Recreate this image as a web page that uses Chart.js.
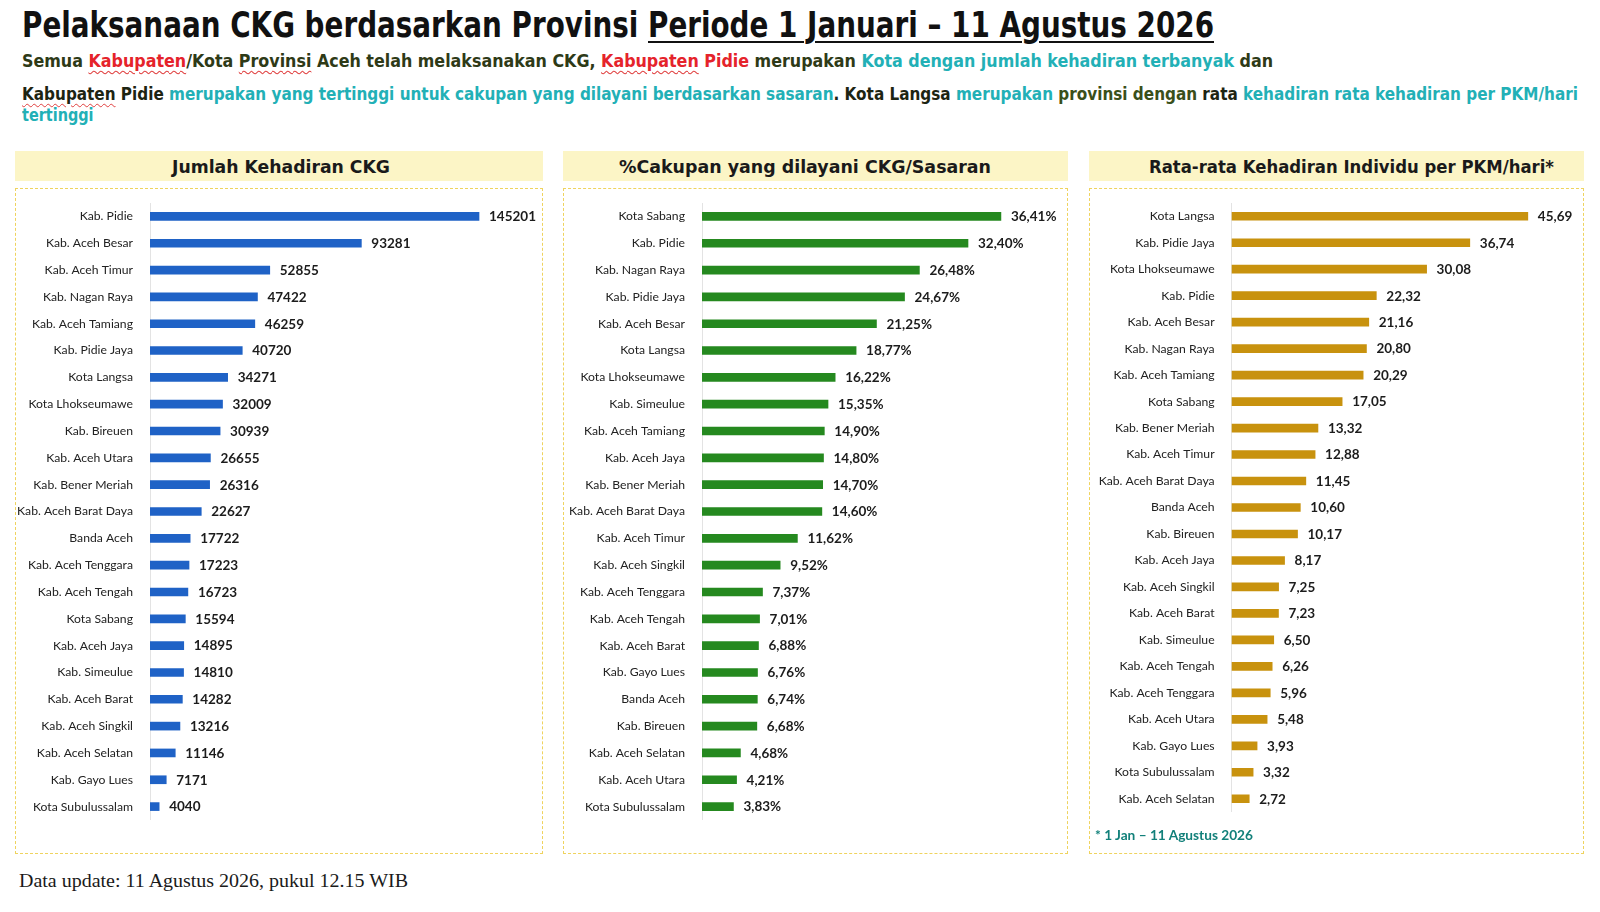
<!DOCTYPE html>
<html><head><meta charset="utf-8">
<script src="https://cdn.jsdelivr.net/npm/chart.js@4.4.1/dist/chart.umd.min.js"></script>
<style>
html,body{margin:0;padding:0;background:#fff;}
body{width:1600px;height:912px;position:relative;overflow:hidden;}
.abs{position:absolute;white-space:nowrap;transform-origin:0 0;}
.band{position:absolute;background:#fcf5c6;top:151px;height:30px;}
.box{position:absolute;top:188px;height:666px;border:1px dashed #efd35e;box-sizing:border-box;}
canvas{position:absolute;}
.r{color:#e5232b}.t{color:#22b0b6}.d{color:#2e3a17}.k{color:#1d2412}.g{color:#3a4f1a}
.sq{text-decoration:underline wavy #e04040;text-decoration-thickness:1px;text-underline-offset:3px}
.ul{text-decoration:underline;text-decoration-thickness:2px;text-underline-offset:4px}
</style></head>
<body>
<div class="band" style="left:15px;width:528px"></div>
<div class="band" style="left:563px;width:505px"></div>
<div class="band" style="left:1089px;width:495px"></div>
<div class="box" style="left:15px;width:528px"></div>
<div class="box" style="left:563px;width:505px"></div>
<div class="box" style="left:1089px;width:495px"></div>
<canvas id="c1"></canvas>
<canvas id="c2"></canvas>
<canvas id="c3"></canvas>
<script>
// ---------- DATA ----------
const cat1 = ["Kab. Pidie","Kab. Aceh Besar","Kab. Aceh Timur","Kab. Nagan Raya","Kab. Aceh Tamiang","Kab. Pidie Jaya","Kota Langsa","Kota Lhokseumawe","Kab. Bireuen","Kab. Aceh Utara","Kab. Bener Meriah","Kab. Aceh Barat Daya","Banda Aceh","Kab. Aceh Tenggara","Kab. Aceh Tengah","Kota Sabang","Kab. Aceh Jaya","Kab. Simeulue","Kab. Aceh Barat","Kab. Aceh Singkil","Kab. Aceh Selatan","Kab. Gayo Lues","Kota Subulussalam"];
const val1 = [145201,93281,52855,47422,46259,40720,34271,32009,30939,26655,26316,22627,17722,17223,16723,15594,14895,14810,14282,13216,11146,7171,4040];

const cat2 = ["Kota Sabang","Kab. Pidie","Kab. Nagan Raya","Kab. Pidie Jaya","Kab. Aceh Besar","Kota Langsa","Kota Lhokseumawe","Kab. Simeulue","Kab. Aceh Tamiang","Kab. Aceh Jaya","Kab. Bener Meriah","Kab. Aceh Barat Daya","Kab. Aceh Timur","Kab. Aceh Singkil","Kab. Aceh Tenggara","Kab. Aceh Tengah","Kab. Aceh Barat","Kab. Gayo Lues","Banda Aceh","Kab. Bireuen","Kab. Aceh Selatan","Kab. Aceh Utara","Kota Subulussalam"];
const val2 = [36.41,32.40,26.48,24.67,21.25,18.77,16.22,15.35,14.90,14.80,14.70,14.60,11.62,9.52,7.37,7.01,6.88,6.76,6.74,6.68,4.68,4.21,3.83];

const cat3 = ["Kota Langsa","Kab. Pidie Jaya","Kota Lhokseumawe","Kab. Pidie","Kab. Aceh Besar","Kab. Nagan Raya","Kab. Aceh Tamiang","Kota Sabang","Kab. Bener Meriah","Kab. Aceh Timur","Kab. Aceh Barat Daya","Banda Aceh","Kab. Bireuen","Kab. Aceh Jaya","Kab. Aceh Singkil","Kab. Aceh Barat","Kab. Simeulue","Kab. Aceh Tengah","Kab. Aceh Tenggara","Kab. Aceh Utara","Kab. Gayo Lues","Kota Subulussalam","Kab. Aceh Selatan"];
const val3 = [45.69,36.74,30.08,22.32,21.16,20.80,20.29,17.05,13.32,12.88,11.45,10.60,10.17,8.17,7.25,7.23,6.50,6.26,5.96,5.48,3.93,3.32,2.72];

const panelTitles = ["Jumlah Kehadiran CKG","%Cakupan yang dilayani CKG/Sasaran","Rata-rata Kehadiran Individu per PKM/hari*"];
const titleA = "Pelaksanaan CKG berdasarkan Provinsi ";
const titleB = "Periode 1 Januari \u2013 11 Agustus 2026";
const footnote = "* 1 Jan \u2013 11 Agustus 2026";
const footer = "Data update: 11 Agustus 2026, pukul 12.15 WIB";

// ---------- fonts ----------
const mctx = document.createElement('canvas').getContext('2d');
function has(f){
  const s='abcdefghijklmnopqrstuvwxyz WQ0123';
  mctx.font='40px monospace'; const a=mctx.measureText(s).width;
  mctx.font='40px "'+f+'",monospace'; const b=mctx.measureText(s).width;
  mctx.font='40px serif'; const c=mctx.measureText(s).width;
  mctx.font='40px "'+f+'",serif'; const d=mctx.measureText(s).width;
  return a!==b || c!==d;
}
function pick(list){ for(const f of list){ if(has(f)) return f; } return list[list.length-1]; }
const FCOND = pick(['Liberation Sans Narrow','DejaVu Sans Condensed','Roboto']);
const FHEAD = pick(['DejaVu Sans','Verdana','Open Sans']);
const FLAB = 'Lato';
const FSERIF = pick(['Liberation Serif','DejaVu Serif']);

function place(html, font, x, baseline, targetW, opts={}){
  const el=document.createElement('div');
  el.className='abs';
  el.style.font=font;
  const L=60;
  el.style.lineHeight=L+'px';
  if(opts.color) el.style.color=opts.color;
  el.innerHTML=html;
  document.body.appendChild(el);
  mctx.font=font;
  const m=mctx.measureText('Hg');
  const a=m.fontBoundingBoxAscent, d=m.fontBoundingBoxDescent;
  const top=baseline-((L-(a+d))/2+a);
  const w=el.getBoundingClientRect().width;
  const s=targetW/w;
  el.style.top=top+'px';
  if(opts.center){ el.style.left=(x-targetW/2)+'px'; } else el.style.left=x+'px';
  el.style.transform='scaleX('+s+')';
  return el;
}

// header texts
place(titleA+'<span class="ul">'+titleB+'</span>', 'bold 36px "'+FCOND+'"', 22.4, 37.5, 1192, {color:'#111'});
const SUB='bold 17px "'+FCOND+'"';
place('<span class="d">Semua </span><span class="r sq">Kabupaten</span><span class="d">/Kota </span><span class="d sq">Provinsi</span><span class="d"> Aceh telah melaksanakan CKG, </span><span class="r"><span class="sq">Kabupaten</span> Pidie</span><span class="d"> merupakan </span><span class="t">Kota dengan jumlah kehadiran terbanyak</span><span class="d"> dan</span>', SUB, 22.4, 67, 1251);
place('<span class="k sq">Kabupaten</span><span class="k"> Pidie </span><span class="t">merupakan yang tertinggi untuk cakupan yang dilayani berdasarkan sasaran</span><span class="k">. Kota Langsa </span><span class="t">merupakan</span><span class="g"> provinsi dengan </span><span class="k">rata</span><span class="t"> kehadiran rata kehadiran per PKM/hari</span>', SUB, 22.4, 100, 1556);
place('<span class="t">tertinggi</span>', SUB, 22.4, 121, 71.5);

const PT='bold 17px "'+FHEAD+'"';
place(panelTitles[0], PT, 280.6, 173, 218, {center:true, color:'#1a1a1a'});
place(panelTitles[1], PT, 804.6, 173, 372, {center:true, color:'#1a1a1a'});
place(panelTitles[2], PT, 1351.6, 173, 405, {center:true, color:'#1a1a1a'});

place(footnote, 'bold 13px "'+FLAB+'"', 1095, 840, 158, {color:'#12807a'});
place(footer, '19px "'+FSERIF+'"', 19.4, 887.5, 389, {color:'#1a1a1a'});

// ---------- charts ----------
mctx.font='12px "'+FLAB+'"';
const labSize = 12*116/mctx.measureText('Kab. Aceh Barat Daya').width;
mctx.font='bold 13px "'+FLAB+'"';
const valSize = 13*47/mctx.measureText('145201').width;

function valuePlugin(fmt){
  return {
    id:'vals',
    afterDatasetsDraw(chart){
      const ctx=chart.ctx;
      const meta=chart.getDatasetMeta(0);
      ctx.save();
      ctx.font='bold '+valSize+'px "'+FLAB+'"';
      ctx.fillStyle='#1c1c1c';
      ctx.textBaseline='middle';
      ctx.textAlign='left';
      meta.data.forEach((bar,i)=>{
        ctx.fillText(fmt(chart.data.datasets[0].data[i]), bar.x+10, bar.y+0.5);
      });
      ctx.restore();
    }
  };
}

function makeChart(id, left, top, width, height, axisX, cats, vals, color, xmax, fmt){
  const cv=document.getElementById(id);
  cv.style.left=left+'px'; cv.style.top=top+'px';
  cv.width=width; cv.height=height;
  cv.style.width=width+'px'; cv.style.height=height+'px';
  const yw=axisX-left;
  new Chart(cv,{
    type:'bar',
    data:{labels:cats,datasets:[{data:vals,backgroundColor:color,borderWidth:0,barThickness:8}]},
    options:{
      indexAxis:'y',responsive:false,maintainAspectRatio:false,animation:false,
      layout:{padding:0,autoPadding:false},
      plugins:{legend:{display:false},tooltip:{enabled:false}},
      scales:{
        x:{display:false,min:0,max:xmax},
        y:{
          grid:{display:false,drawTicks:false},
          border:{display:true,color:'#e3e3e3',width:1},
          ticks:{color:'#222',font:{family:FLAB,size:labSize},padding:17,autoSkip:false},
          afterFit(s){s.width=yw;s.paddingTop=0;s.paddingBottom=0;}
        }
      }
    },
    plugins:[valuePlugin(fmt)]
  });
}
const fmtInt=v=>String(v);
const fmtPct=v=>v.toFixed(2).replace('.',',')+'%';
const fmtDec=v=>v.toFixed(2).replace('.',',');

makeChart('c1',16,203,526,617,150,cat1,val1,'#1f62c6',173000,fmtInt);
makeChart('c2',564,203,503,617,702,cat2,val2,'#25891f',44.46,fmtPct);
makeChart('c3',1090,203,493,609,1231.6,cat3,val3,'#c8920e',54.2,fmtDec);
</script>
</body></html>
